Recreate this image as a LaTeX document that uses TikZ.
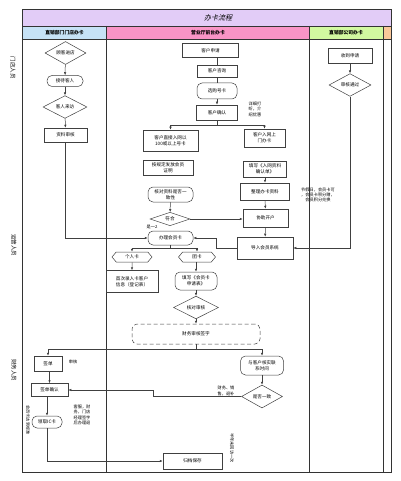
\documentclass[tikz,border=0pt]{standalone}
\usepackage{fontspec}
\setmainfont{Noto Sans CJK SC}
\newfontfamily\titlefont[FakeSlant=0.25]{Noto Sans CJK SC}
\usetikzlibrary{shapes.geometric,shapes.symbols,arrows.meta}

\definecolor{titlebar}{HTML}{E2CCF7}
\definecolor{laneA}{HTML}{C6E2F6}
\definecolor{laneB}{HTML}{F994C6}
\definecolor{laneC}{HTML}{D2F9A0}
\definecolor{laneD}{HTML}{FAC89A}

\tikzset{
  every node/.style={font=\fontsize{4.6}{5.6}\selectfont, align=center, inner sep=0.5pt},
  sz/.style 2 args={minimum width=#1pt, minimum height=#2pt},
  flow/.style={draw=black!75, line width=0.5pt, fill=white},
  box/.style={flow, rectangle},
  term/.style={flow, rectangle, rounded corners=5pt},
  choice/.style={flow, diamond, inner sep=0pt},
  hexa/.style={flow, signal, signal to=east and west, signal pointer angle=100},
  note/.style={font=\fontsize{4.2}{5.4}\selectfont},
  lanelabel/.style={font=\fontsize{4.8}{5.6}\selectfont\bfseries},
  rowlabel/.style={font=\fontsize{5.5}{6}\selectfont, rotate=-90},
  wire/.style={draw=black!75, line width=0.5pt},
  link/.style={wire, -{Latex[length=3pt,width=2.4pt]}},
}

\begin{document}
\begin{tikzpicture}[x=1pt, y=-1pt]

\useasboundingbox (0,0) rectangle (400,481);

\fill[titlebar] (22.5,9) rectangle (391,26);
\fill[laneA] (22.5,26) rectangle (106.5,39);
\fill[laneB] (106.5,26) rectangle (309,39);
\fill[laneC] (309,26) rectangle (383,39);
\fill[laneD] (383,26) rectangle (391,39);
\draw[black!80, line width=0.7pt] (22.5,9) rectangle (391,472);
\draw[black!80, line width=0.6pt] (22.5,26) -- (391,26);
\draw[black!80, line width=0.6pt] (22.5,39) -- (391,39);
\draw[black!80, line width=0.6pt] (106.5,26) -- (106.5,472);
\draw[black!80, line width=0.6pt] (309,26) -- (309,472);
\draw[black!80, line width=0.6pt] (383,26) -- (383,472);

\node (title) at (218,18) {\fontsize{7}{7.5}\selectfont\titlefont 办卡流程};
\node[lanelabel] (hA) at (64.5,32.5) {直销部门门店办卡};
\node[lanelabel] (hB) at (208,32.5) {营业厅前台办卡};
\node[lanelabel] (hC) at (346,32.5) {直销部公司办卡};

\node[rowlabel] (rA) at (13,68) {门店人员};
\node[rowlabel] (rB) at (14,245) {运营人员};
\node[rowlabel] (rC) at (14,370) {财务人员};

\node[choice, sz={41}{23}] (enter) at (65.5,53) {顾客进店};
\node[term, sz={36}{11}] (greet) at (65,81) {接待客人};
\node[choice, sz={44}{21}] (visit) at (65,107) {客人来访};
\node[box, sz={43}{14}] (check) at (65.5,135) {资料审核};

\node[box, sz={56}{14}] (apply) at (210.5,50.5) {客户申请};
\node[box, sz={40}{12}, line width=0.8pt] (consult) at (217,71) {客户咨询};
\node[term, sz={40}{16}] (pick) at (217,91) {选购号卡};
\node[box, sz={41}{15}] (confirm) at (217,112.5) {客户确认};
\node[note] (tipA) at (255,109) {详细打\\听，介\\绍优惠};
\node[box, sz={55}{21}] (direct) at (170.5,140.5) {客户直接入网以\\100或以上号卡};
\node[box, sz={41}{18}] (door) at (264.5,138) {客户入网上\\门办卡};
\node[box, sz={50}{15}] (issue) at (168,167.5) {按规定发放会员\\证明};
\node[box, sz={43}{16}] (form) at (265,169) {填写《入网资料\\确认单》};
\node[box, sz={49}{17}] (sort) at (265,191.5) {整理办卡资料};
\node[note] (tipB) at (318,195) {节假日，会员卡可\\，会员卡积分赠，\\会员积分兑换};
\node[box, sz={45}{18}] (open) at (265.5,218) {协助开户};
\node[box, sz={56}{22}] (import) at (265,248) {导入会员系统};
\node[term, sz={45}{15}] (verify) at (170.5,194.5) {核对资料是否一\\致性};
\node[choice, sz={40}{12}] (match) at (170,219) {符合};
\node[note] (yes) at (152,227) {是一2};
\node[term, sz={45}{14}] (card) at (170.5,238) {办理会员卡};
\node[hexa, sz={40}{10}] (single) at (132,257) {个人卡};
\node[hexa, sz={37}{10}] (group) at (197,257) {团卡};
\node[box, sz={52}{22}] (record) at (132,281.5) {首次录入卡客户\\信息（登记表）};
\node[term, sz={42}{18}] (sheet) at (196,281) {填写《会员卡\\申请表》};
\node[choice, sz={45}{15}] (audit) at (196,307.5) {核对审核};
\node[term, sz={128}{20}, dash pattern=on 4pt off 2.5pt] (sign) at (196,334) {财务审核签字};
\node[term, sz={43}{19}] (call) at (262,365.5) {与客户核实联\\系时间};
\node[choice, sz={41}{23}] (same) at (262,396.5) {是否一致};
\node[note] (tipC) at (226,391) {财务、销\\售，退补};
\node[box, sz={59}{16}] (store) at (192.5,461) {归档保存};
\node[note, rotate=-90] (tipD) at (232,448) {半年未回访一次};

\node[box, sz={28}{15}] (bill) at (48,363.5) {签单};
\node[note] (tipE) at (73,362) {审核};
\node[box, sz={37}{13}] (billok) at (49.5,390) {签单确认};
\node[term, sz={30}{12}] (take) at (47,422) {领取IC卡};
\node[note] (tipF) at (82,415) {客服，财\\务，门店\\经理签字\\后办理退};
\node[note, rotate=-90] (tipG) at (28,420) {会员卡达到标准};

\node[box, sz={44}{15}] (recv) at (350,55.5) {收到申请};
\node[choice, sz={42}{18}] (pass) at (350,85) {审核通过};

\coordinate (j1) at (217,125);
\coordinate (j2) at (170.5,248);
\coordinate (j3) at (196,349.5);

\draw[link] (enter) -- (greet);
\draw[link] (greet) -- (visit);
\draw[link] (visit) -- (check);
\draw[link] (check) |- (card);

\draw[wire] (apply.south -| consult) -- (consult);
\draw[wire] (consult) -- (pick);
\draw[link] (pick) -- (confirm);
\draw[wire] (confirm) -- (j1);
\draw[link] (j1) -| (direct);
\draw[link] (j1) -| (door);
\draw[link] (form) -- (sort);
\draw[link] (sort) -- (open);
\draw[link] (open) -- (import);
\draw[link] (verify) -- (match);
\draw[link] (match) -- (match -| open.west);

\draw[link] (recv) -- (pass);
\draw[link] (pass) |- (import);
\draw[link] (import) -| (216,238) -- (card);

\draw[wire] (card) -- (j2);
\draw[link] (j2) -| (single);
\draw[link] (j2) -| (group);
\draw[link] (single) -- (record);
\draw[link] (group.south -| sheet) -- (sheet);
\draw[link] (sheet) -- (audit);
\draw[link] (audit) -- (sign);
\draw[wire] (sign) -- (j3);
\draw[link] (j3) -| (bill);
\draw[link] (j3) -| (call);
\draw[link] (call) -- (same);
\draw[link] (same) -| (153,390) -- (billok);

\draw[link] (bill.south -| billok) -- (billok);
\draw[link] (billok.south -| take) -- (take);
\draw[link] (take) |- (store);

\end{tikzpicture}
\end{document}
